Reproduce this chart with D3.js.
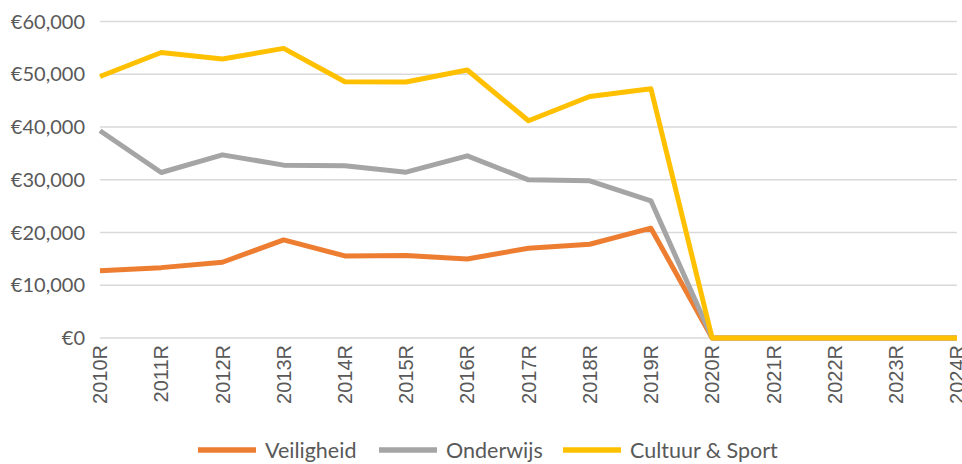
<!DOCTYPE html>
<html>
<head>
<meta charset="utf-8">
<script src="https://cdn.jsdelivr.net/npm/d3@7"></script>
<style>
  body { margin: 0; background: #fff; }
  text { font-family: Lato, "Open Sans", sans-serif; fill: #595959; }
</style>
</head>
<body>
<svg id="chart" width="962" height="464"></svg>
<script>
// years on the x axis
const years = ['2010R','2011R','2012R','2013R','2014R','2015R','2016R','2017R','2018R','2019R','2020R','2021R','2022R','2023R','2024R'];

const veiligheid = [12770, 13340, 14360, 18600, 15560, 15620, 14990, 17020, 17780, 20820, 0, 0, 0, 0, 0];
const onderwijs  = [39280, 31370, 34720, 32770, 32640, 31440, 34540, 29980, 29790, 26000, 0, 0, 0, 0, 0];
const cultuur    = [49580, 54130, 52880, 54900, 48580, 48520, 50800, 41180, 45790, 47250, 0, 0, 0, 0, 0];

const yTicks = [0, 10000, 20000, 30000, 40000, 50000, 60000];

const series = [
  { name: 'Veiligheid', values: veiligheid, color: '#ED7D31' },
  { name: 'Onderwijs', values: onderwijs, color: '#A5A5A5' },
  { name: 'Cultuur & Sport', values: cultuur, color: '#FFC000' }
];

const svg = d3.select('#chart');
const plotL = 100, plotR = 957, plotT = 21.5, plotB = 338;

const x = d3.scalePoint().domain(years).range([plotL, plotR]);
const y = d3.scaleLinear().domain([0, 60000]).range([plotB, plotT]);

// gridlines
svg.append('g').selectAll('line')
  .data(yTicks)
  .join('line')
  .attr('x1', plotL).attr('x2', plotR)
  .attr('y1', d => y(d)).attr('y2', d => y(d))
  .attr('stroke', '#D9D9D9').attr('stroke-width', 1.5);

// y labels
const fmt = d3.format(',');
svg.append('g').selectAll('text')
  .data(yTicks)
  .join('text')
  .attr('x', 85).attr('y', d => y(d))
  .attr('dy', '0.35em')
  .attr('text-anchor', 'end')
  .style('font-size', '20px')
  .text(d => '€' + fmt(d));

// x labels, rotated
svg.append('g').selectAll('text')
  .data(years)
  .join('text')
  .attr('transform', d => `translate(${x(d)},345) rotate(-90)`)
  .attr('dy', '0.36em')
  .attr('text-anchor', 'end')
  .style('font-family', '"Liberation Sans", Arial, sans-serif')
  .style('font-size', '20px')
  .text(d => d);

// lines
const line = d3.line().x((d, i) => x(years[i])).y(d => y(d));
svg.append('g').selectAll('path')
  .data(series)
  .join('path')
  .attr('d', d => line(d.values))
  .attr('fill', 'none')
  .attr('stroke', d => d.color)
  .attr('stroke-width', 5)
  .attr('stroke-linejoin', 'round');

// legend
const legendX = [198, 379, 563];
const lg = svg.append('g').selectAll('g')
  .data(series)
  .join('g')
  .attr('transform', (d, i) => `translate(${legendX[i]},450)`);
lg.append('line')
  .attr('x1', 0).attr('x2', 58)
  .attr('stroke', d => d.color).attr('stroke-width', 5.5);
lg.append('text')
  .attr('x', 67).attr('dy', '0.35em')
  .style('font-size', '21.5px')
  .text(d => d.name);
</script>
</body>
</html>
